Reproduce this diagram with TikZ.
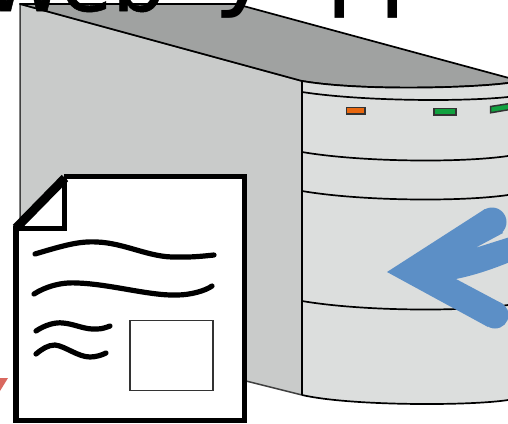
\documentclass[tikz,border=0pt]{standalone}
\usepackage{fontspec}
\setmainfont{DejaVu Sans}
\newfontfamily\heavyf[FakeBold=0.6]{DejaVu Sans}
\definecolor{sideC}{HTML}{C9CBCA}
\definecolor{topC}{HTML}{A0A2A1}
\definecolor{frontC}{HTML}{DCDEDD}
\definecolor{blueC}{HTML}{5C8FC6}
\definecolor{redC}{HTML}{D9685F}
\definecolor{orangeC}{HTML}{E8670F}
\definecolor{greenC}{HTML}{11A13F}
\tikzset{
  x=1pt,y=-1pt,
  edge/.style={draw=black,line width=1.7pt,line join=round},
  band/.style={draw=black,line width=1.7pt},
  led/.style={draw=black!80,line width=1.5pt},
  wave/.style={draw=black,line width=5.2pt,line cap=round},
  big/.style={inner sep=0pt,anchor=base west,font=\heavyf\fontsize{84}{84}\selectfont},
  bigger/.style={inner sep=0pt,anchor=base west,font=\fontsize{105}{105}\selectfont},
}
\begin{document}
\begin{tikzpicture}
\clip (0,0) rectangle (508,423);
% server
\path[fill=sideC,draw=black!75,line width=1.5pt] (20,4) -- (302,81) -- (302,395) -- (254,383) -- (20,325) -- cycle;
\path[fill=topC,edge] (20,4) -- (236,4) -- (520,81) -- (508,83) .. controls (470,88) and (360,91) .. (302,81) -- cycle;
\path[fill=frontC] (302,81) .. controls (360,91) and (470,88) .. (508,83) -- (508,400) .. controls (470,406) and (350,406) .. (302,395) -- cycle;
\draw[edge] (302,81) .. controls (360,91) and (470,88) .. (508,83);
\draw[edge] (302,395) .. controls (350,406) and (470,406) .. (508,400);
\draw[edge] (302,81) -- (302,395);
\draw[band] (302,92) .. controls (360,101) and (460,102) .. (508,97);
\draw[band] (302,152) .. controls (360,162) and (460,163) .. (508,156);
\draw[band] (302,191) .. controls (360,201) and (460,202) .. (508,195);
\draw[band] (302,301) .. controls (360,311) and (460,312) .. (508,305);
% lights
\path[fill=orangeC,led] (346.5,107.5) rectangle (365,114);
\path[fill=greenC,led] (434,108.5) rectangle (456,115);
\path[fill=greenC,led] (490.5,106.5) -- (510,103.5) -- (510,109.5) -- (490.5,112.8) -- cycle;
% blue arrow
\path[fill=blueC] (387,272) -- (485,209) -- (503,233) -- (475,248) -- (510,237) -- (510,262) .. controls (490,270) and (475,275) .. (456,279) -- (503,304) -- (488,327) -- cycle;
\fill[blueC] (492,222) circle (14.5);
\fill[blueC] (495,315) circle (13.5);
% red mark
\fill[redC] (0,378) -- (8,378) -- (0,391) -- cycle;
% document
\path[fill=white] (15.5,228) -- (65,176.5) -- (244.5,176.5) -- (244.5,420.5) -- (16,420.5) -- cycle;
\draw[black,line width=5.5pt,line join=miter] (64,176.5) -- (244.5,176.5) -- (244.5,420.5) -- (16,420.5) -- (16,226);
\draw[black,line width=4.5pt] (64.5,178) -- (64.5,228.5) -- (16,228.5);
\draw[black,line width=9pt] (65,178) -- (16,228);
\draw[wave] (35,254) .. controls (65,245) and (80,241) .. (97,242) .. controls (125,243) and (150,258) .. (177,257) .. controls (190,257.5) and (205,256) .. (214,255);
\draw[wave] (34,294) .. controls (45,287) and (60,282) .. (77,283) .. controls (110,284) and (150,296) .. (177,295) .. controls (190,295) and (205,291) .. (212,286);
\draw[wave] (36,331) .. controls (45,325) and (55,322) .. (63,323) .. controls (75,324) and (85,330) .. (97,329) .. controls (102,329) and (106,327.5) .. (110,326);
\draw[wave] (36,354) .. controls (42,349) and (48,345) .. (55,345) .. controls (65,346) and (78,357) .. (90,357) .. controls (96,357) and (102,355) .. (106,353);
\draw[black!80,line width=1.8pt,fill=white] (130,320.5) rectangle (213,390.5);
% title, cut off by the top edge
\node[big] (tw) at (-18,11) {Web};
\node[bigger] (ty) at (213,-4) {y};
\node[bigger] (tpa) at (325.5,-4) {p};
\node[bigger] (tpb) at (378.5,-4) {p};
\end{tikzpicture}
\end{document}
